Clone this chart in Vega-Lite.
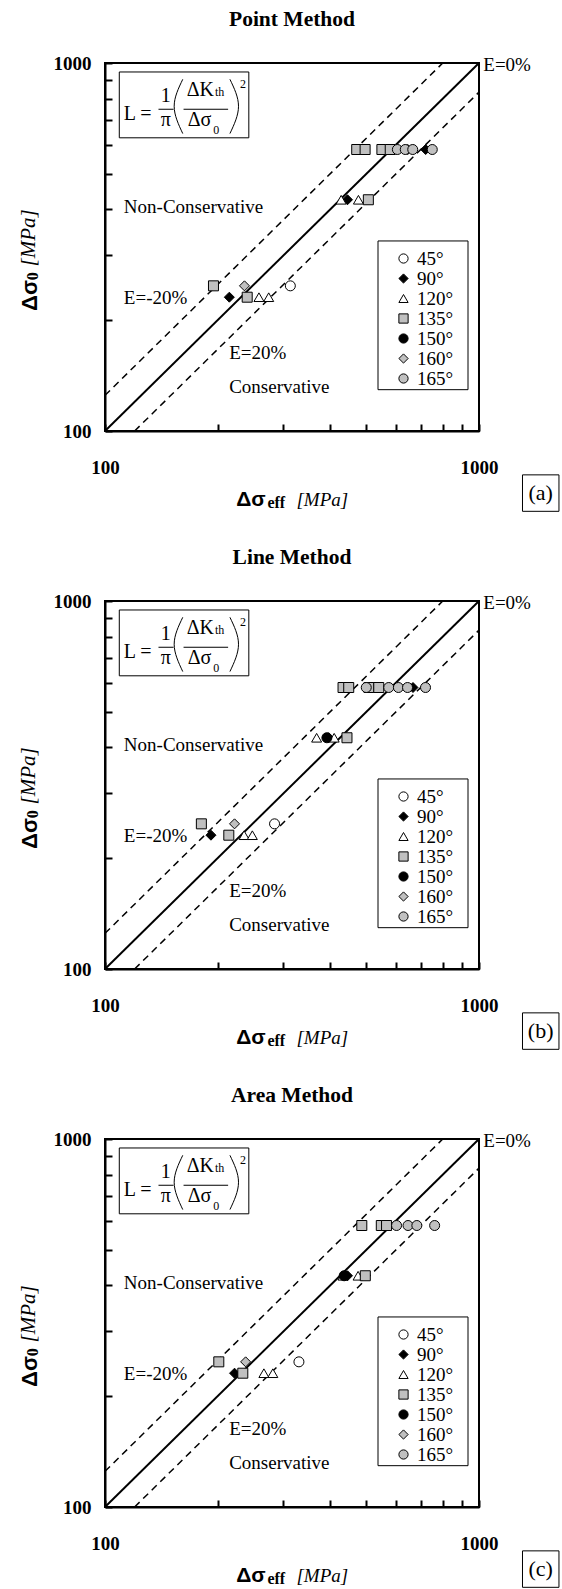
{
  "$schema": "https://vega.github.io/schema/vega-lite/v6.json",
  "background": "white",
  "padding": {"left": 17, "top": 7, "right": 5, "bottom": 0},
  "spacing": 32,
  "config": {
    "font": "Liberation Serif",
    "view": {"stroke": "black", "strokeWidth": 2},
    "axis": {"labelFont": "Liberation Serif", "labelFontSize": 19, "labelFontWeight": "bold", "labelColor": "black", "domainColor": "black", "domainWidth": 2, "ticks": true, "tickColor": "black", "tickWidth": 2, "tickSize": -7, "zindex": 1, "grid": false, "labelFlush": false, "labelOverlap": false, "labelBound": false},
    "legend": {"labelFont": "Liberation Serif", "labelFontSize": 19, "labelColor": "black", "symbolSize": 85, "symbolStrokeColor": "black", "symbolStrokeWidth": 1, "padding": 5, "rowPadding": -2, "symbolOffset": 11, "labelOffset": 4},
    "title": {"font": "Liberation Serif", "fontSize": 21.5, "fontWeight": "bold", "color": "black", "anchor": "middle", "frame": "group", "baseline": "bottom", "offset": 24}
  },
  "datasets": {
    "diag": [{"x": 100, "y": 100}, {"x": 1000, "y": 1000}],
    "dash": [{"g": "neg", "x": 100, "y": 125}, {"g": "neg", "x": 800, "y": 1000}, {"g": "pos", "x": 120, "y": 100}, {"g": "pos", "x": 1000, "y": 833.3}],
    "notes": [{"x": 112.3, "y": 405, "t": "Non-Conservative"}, {"x": 112.3, "y": 230.5, "t": "E=-20%"}, {"x": 214.8, "y": 163, "t": "E=20%"}, {"x": 214.8, "y": 131.9, "t": "Conservative"}, {"x": 1026.8, "y": 985.5, "t": "E=0%"}],
    "fbox": [{"x": 109.2, "x2": 242.4, "y": 945.4, "y2": 626.2}],
    "lbox": [{"x": 537, "x2": 934.6, "y": 328.4, "y2": 129.5}],
    "fbig": [{"x": 122.3, "y": 725.6, "t": "L ="}, {"x": 145.3, "y": 813.9, "t": "1"}, {"x": 145.3, "y": 700, "t": "π"}, {"x": 179.8, "y": 843, "t": "ΔK"}, {"x": 179.0, "y": 700, "t": "Δσ"}],
    "fsmall": [{"x": 202.5, "y": 834.2, "t": "th"}, {"x": 198.5, "y": 656.9, "t": "0"}, {"x": 234, "y": 878.9, "t": "2"}],
    "fbars": [{"x": 139, "x2": 152.5, "y": 748.7}, {"x": 162.2, "x2": 213.4, "y": 748.7}],
    "parens": [{"p": "l", "o": 0, "x": 161.4, "y": 903}, {"p": "l", "o": 1, "x": 153.1, "y": 763}, {"p": "l", "o": 2, "x": 161.4, "y": 643}, {"p": "r", "o": 0, "x": 215.8, "y": 903}, {"p": "r", "o": 1, "x": 227.5, "y": 763}, {"p": "r", "o": 2, "x": 215.8, "y": 643}],
    "xtb": [{"x": 268.8, "y": 65, "t": "Δσ"}],
    "xts": [{"x": 271.8, "y": 63.9, "t": "eff"}],
    "xtu": [{"x": 325, "y": 65, "t": "[MPa]"}],
    "ytb": [{"x": 63, "y": 212, "t": "Δσ"}],
    "yts": [{"x": 64, "y": 257, "t": "0"}],
    "ytu": [{"x": 62.8, "y": 280, "t": "[MPa]"}],
    "pbox": [{"x": 1307, "x2": 1636, "y": 76, "y2": 60.5}],
    "pa": [
      {"a": "45°", "x": 313, "y": 248},
      {"a": "90°", "x": 215, "y": 231}, {"a": "90°", "x": 445, "y": 425}, {"a": "90°", "x": 645, "y": 582}, {"a": "90°", "x": 720, "y": 582},
      {"a": "120°", "x": 258, "y": 231}, {"a": "120°", "x": 274, "y": 231}, {"a": "120°", "x": 428, "y": 425}, {"a": "120°", "x": 476, "y": 425},
      {"a": "135°", "x": 195, "y": 248}, {"a": "135°", "x": 240, "y": 231}, {"a": "135°", "x": 506, "y": 425}, {"a": "135°", "x": 471, "y": 582}, {"a": "135°", "x": 496, "y": 582}, {"a": "135°", "x": 550, "y": 582}, {"a": "135°", "x": 579, "y": 582},
      {"a": "160°", "x": 236, "y": 248},
      {"a": "165°", "x": 605, "y": 582}, {"a": "165°", "x": 635, "y": 582}, {"a": "165°", "x": 665, "y": 582}, {"a": "165°", "x": 750, "y": 582}
    ],
    "pb": [
      {"a": "45°", "x": 284, "y": 248},
      {"a": "90°", "x": 192, "y": 231}, {"a": "90°", "x": 396, "y": 425}, {"a": "90°", "x": 666, "y": 582},
      {"a": "120°", "x": 235.5, "y": 231}, {"a": "120°", "x": 247.7, "y": 231}, {"a": "120°", "x": 368, "y": 425}, {"a": "120°", "x": 410, "y": 425},
      {"a": "135°", "x": 181, "y": 248}, {"a": "135°", "x": 214.3, "y": 231}, {"a": "135°", "x": 443.6, "y": 425}, {"a": "135°", "x": 433, "y": 582}, {"a": "135°", "x": 448.4, "y": 582}, {"a": "135°", "x": 508, "y": 582}, {"a": "135°", "x": 539.5, "y": 582},
      {"a": "150°", "x": 392, "y": 425},
      {"a": "160°", "x": 222, "y": 248},
      {"a": "165°", "x": 499.5, "y": 582}, {"a": "165°", "x": 573.7, "y": 582}, {"a": "165°", "x": 608.8, "y": 582}, {"a": "165°", "x": 644, "y": 582}, {"a": "165°", "x": 719.5, "y": 582}
    ],
    "pc": [
      {"a": "45°", "x": 330, "y": 248},
      {"a": "90°", "x": 222, "y": 231}, {"a": "90°", "x": 445, "y": 425},
      {"a": "120°", "x": 266, "y": 231}, {"a": "120°", "x": 281, "y": 231}, {"a": "120°", "x": 433, "y": 425}, {"a": "120°", "x": 475, "y": 425},
      {"a": "135°", "x": 201.5, "y": 248}, {"a": "135°", "x": 233.6, "y": 231}, {"a": "135°", "x": 496.6, "y": 425}, {"a": "135°", "x": 486, "y": 582}, {"a": "135°", "x": 548, "y": 582}, {"a": "135°", "x": 566, "y": 582},
      {"a": "150°", "x": 436, "y": 425},
      {"a": "160°", "x": 237.7, "y": 248},
      {"a": "165°", "x": 602, "y": 582}, {"a": "165°", "x": 646, "y": 582}, {"a": "165°", "x": 682, "y": 582}, {"a": "165°", "x": 761, "y": 582}
    ]
  },
  "resolve": {"scale": {"fill": "independent", "shape": "independent", "stroke": "independent"}, "legend": {"fill": "independent", "shape": "independent", "stroke": "independent"}},
  "vconcat": [
    {
      "title": "Point Method",
      "width": 374, "height": 368,
      "encoding": {
        "x": {"field": "x", "type": "quantitative", "title": null, "scale": {"type": "log", "domain": [100, 1000], "nice": false}, "axis": {"title": null, "values": [100, 200, 300, 400, 500, 600, 700, 800, 900, 1000], "format": "d", "labelExpr": "datum.value == 100 || datum.value == 1000 ? datum.label : ''", "labelPadding": 34}},
        "y": {"field": "y", "type": "quantitative", "title": null, "scale": {"type": "log", "domain": [100, 1000], "nice": false}, "axis": {"title": null, "values": [100, 200, 300, 400, 500, 600, 700, 800, 900, 1000], "format": "d", "labelExpr": "datum.value == 100 || datum.value == 1000 ? datum.label : ''", "labelPadding": 21}}
      },
      "layer": [
        {"data": {"name": "diag"}, "mark": {"type": "line", "color": "black", "strokeWidth": 2}, "encoding": {}},
        {"data": {"name": "dash"}, "mark": {"type": "line", "color": "black", "strokeWidth": 1.5, "strokeDash": [7, 5]}, "encoding": {"detail": {"field": "g"}}},
        {"data": {"name": "fbox"}, "mark": {"type": "rect", "fill": "white", "stroke": "black", "strokeWidth": 1}, "encoding": {"x2": {"field": "x2"}, "y2": {"field": "y2"}}},
        {"data": {"name": "fbars"}, "mark": {"type": "rule", "color": "black", "strokeWidth": 1}, "encoding": {"x2": {"field": "x2"}}},
        {"data": {"name": "parens"}, "mark": {"type": "line", "color": "black", "strokeWidth": 1, "interpolate": "natural"}, "encoding": {"detail": {"field": "p"}, "order": {"field": "o", "type": "quantitative"}}},
        {"data": {"name": "fbig"}, "mark": {"type": "text", "fontSize": 20, "align": "center", "baseline": "middle", "color": "black"}, "encoding": {"text": {"field": "t"}}},
        {"data": {"name": "fsmall"}, "mark": {"type": "text", "fontSize": 12, "align": "center", "baseline": "middle", "color": "black"}, "encoding": {"text": {"field": "t"}}},
        {"data": {"name": "notes"}, "mark": {"type": "text", "fontSize": 19, "align": "left", "baseline": "middle", "color": "black"}, "encoding": {"text": {"field": "t"}}},
        {"data": {"name": "xtb"}, "mark": {"type": "text", "font": "Liberation Sans", "fontWeight": "bold", "fontSize": 21, "align": "right", "baseline": "middle", "color": "black"}, "encoding": {"text": {"field": "t"}}},
        {"data": {"name": "xts"}, "mark": {"type": "text", "fontWeight": "bold", "fontSize": 16, "align": "left", "baseline": "middle", "color": "black"}, "encoding": {"text": {"field": "t"}}},
        {"data": {"name": "xtu"}, "mark": {"type": "text", "fontStyle": "italic", "fontSize": 19, "align": "left", "baseline": "middle", "color": "black"}, "encoding": {"text": {"field": "t"}}},
        {"data": {"name": "ytb"}, "mark": {"type": "text", "font": "Liberation Sans", "fontWeight": "bold", "fontSize": 22, "angle": 270, "align": "left", "baseline": "middle", "color": "black"}, "encoding": {"text": {"field": "t"}}},
        {"data": {"name": "yts"}, "mark": {"type": "text", "fontWeight": "bold", "fontSize": 16, "angle": 270, "align": "left", "baseline": "middle", "color": "black"}, "encoding": {"text": {"field": "t"}}},
        {"data": {"name": "ytu"}, "mark": {"type": "text", "fontStyle": "italic", "fontSize": 21, "angle": 270, "align": "left", "baseline": "middle", "color": "black"}, "encoding": {"text": {"field": "t"}}},
        {"data": {"name": "pbox"}, "mark": {"type": "rect", "fill": "white", "stroke": "black", "strokeWidth": 1}, "encoding": {"x2": {"field": "x2"}, "y2": {"field": "y2"}}},
        {"data": {"values": [{"x": 1462, "y": 67.8, "t": "(a)"}]}, "mark": {"type": "text", "fontSize": 22, "align": "center", "baseline": "middle", "color": "black"}, "encoding": {"text": {"field": "t"}}},
        {"data": {"name": "lbox"}, "mark": {"type": "rect", "fill": "white", "stroke": "black", "strokeWidth": 1}, "encoding": {"x2": {"field": "x2"}, "y2": {"field": "y2"}}},
        {"data": {"name": "pa"}, "mark": {"type": "point", "filled": true, "size": 100, "strokeWidth": 1, "opacity": 1},
          "encoding": {
            "shape": {"field": "a", "type": "nominal", "scale": {"domain": ["45°", "90°", "120°", "135°", "150°", "160°", "165°"], "range": ["circle", "diamond", "triangle-up", "square", "circle", "diamond", "circle"]}, "legend": {"title": null, "orient": "none", "legendX": 273, "legendY": 181}},
            "fill": {"field": "a", "type": "nominal", "scale": {"domain": ["45°", "90°", "120°", "135°", "150°", "160°", "165°"], "range": ["white", "black", "white", "#c0c0c0", "black", "#c0c0c0", "#c0c0c0"]}, "legend": {"title": null, "orient": "none", "legendX": 273, "legendY": 181}},
            "stroke": {"field": "a", "type": "nominal", "scale": {"domain": ["45°", "90°", "120°", "135°", "150°", "160°", "165°"], "range": ["black", "black", "black", "black", "black", "black", "black"]}, "legend": {"title": null, "orient": "none", "legendX": 273, "legendY": 181}}
          }}
      ]
    },
    {
      "title": "Line Method",
      "width": 374, "height": 368,
      "encoding": {
        "x": {"field": "x", "type": "quantitative", "title": null, "scale": {"type": "log", "domain": [100, 1000], "nice": false}, "axis": {"title": null, "values": [100, 200, 300, 400, 500, 600, 700, 800, 900, 1000], "format": "d", "labelExpr": "datum.value == 100 || datum.value == 1000 ? datum.label : ''", "labelPadding": 34}},
        "y": {"field": "y", "type": "quantitative", "title": null, "scale": {"type": "log", "domain": [100, 1000], "nice": false}, "axis": {"title": null, "values": [100, 200, 300, 400, 500, 600, 700, 800, 900, 1000], "format": "d", "labelExpr": "datum.value == 100 || datum.value == 1000 ? datum.label : ''", "labelPadding": 21}}
      },
      "layer": [
        {"data": {"name": "diag"}, "mark": {"type": "line", "color": "black", "strokeWidth": 2}, "encoding": {}},
        {"data": {"name": "dash"}, "mark": {"type": "line", "color": "black", "strokeWidth": 1.5, "strokeDash": [7, 5]}, "encoding": {"detail": {"field": "g"}}},
        {"data": {"name": "fbox"}, "mark": {"type": "rect", "fill": "white", "stroke": "black", "strokeWidth": 1}, "encoding": {"x2": {"field": "x2"}, "y2": {"field": "y2"}}},
        {"data": {"name": "fbars"}, "mark": {"type": "rule", "color": "black", "strokeWidth": 1}, "encoding": {"x2": {"field": "x2"}}},
        {"data": {"name": "parens"}, "mark": {"type": "line", "color": "black", "strokeWidth": 1, "interpolate": "natural"}, "encoding": {"detail": {"field": "p"}, "order": {"field": "o", "type": "quantitative"}}},
        {"data": {"name": "fbig"}, "mark": {"type": "text", "fontSize": 20, "align": "center", "baseline": "middle", "color": "black"}, "encoding": {"text": {"field": "t"}}},
        {"data": {"name": "fsmall"}, "mark": {"type": "text", "fontSize": 12, "align": "center", "baseline": "middle", "color": "black"}, "encoding": {"text": {"field": "t"}}},
        {"data": {"name": "notes"}, "mark": {"type": "text", "fontSize": 19, "align": "left", "baseline": "middle", "color": "black"}, "encoding": {"text": {"field": "t"}}},
        {"data": {"name": "xtb"}, "mark": {"type": "text", "font": "Liberation Sans", "fontWeight": "bold", "fontSize": 21, "align": "right", "baseline": "middle", "color": "black"}, "encoding": {"text": {"field": "t"}}},
        {"data": {"name": "xts"}, "mark": {"type": "text", "fontWeight": "bold", "fontSize": 16, "align": "left", "baseline": "middle", "color": "black"}, "encoding": {"text": {"field": "t"}}},
        {"data": {"name": "xtu"}, "mark": {"type": "text", "fontStyle": "italic", "fontSize": 19, "align": "left", "baseline": "middle", "color": "black"}, "encoding": {"text": {"field": "t"}}},
        {"data": {"name": "ytb"}, "mark": {"type": "text", "font": "Liberation Sans", "fontWeight": "bold", "fontSize": 22, "angle": 270, "align": "left", "baseline": "middle", "color": "black"}, "encoding": {"text": {"field": "t"}}},
        {"data": {"name": "yts"}, "mark": {"type": "text", "fontWeight": "bold", "fontSize": 16, "angle": 270, "align": "left", "baseline": "middle", "color": "black"}, "encoding": {"text": {"field": "t"}}},
        {"data": {"name": "ytu"}, "mark": {"type": "text", "fontStyle": "italic", "fontSize": 21, "angle": 270, "align": "left", "baseline": "middle", "color": "black"}, "encoding": {"text": {"field": "t"}}},
        {"data": {"name": "pbox"}, "mark": {"type": "rect", "fill": "white", "stroke": "black", "strokeWidth": 1}, "encoding": {"x2": {"field": "x2"}, "y2": {"field": "y2"}}},
        {"data": {"values": [{"x": 1462, "y": 67.8, "t": "(b)"}]}, "mark": {"type": "text", "fontSize": 22, "align": "center", "baseline": "middle", "color": "black"}, "encoding": {"text": {"field": "t"}}},
        {"data": {"name": "lbox"}, "mark": {"type": "rect", "fill": "white", "stroke": "black", "strokeWidth": 1}, "encoding": {"x2": {"field": "x2"}, "y2": {"field": "y2"}}},
        {"data": {"name": "pb"}, "mark": {"type": "point", "filled": true, "size": 100, "strokeWidth": 1, "opacity": 1},
          "encoding": {
            "shape": {"field": "a", "type": "nominal", "scale": {"domain": ["45°", "90°", "120°", "135°", "150°", "160°", "165°"], "range": ["circle", "diamond", "triangle-up", "square", "circle", "diamond", "circle"]}, "legend": {"title": null, "orient": "none", "legendX": 273, "legendY": 181}},
            "fill": {"field": "a", "type": "nominal", "scale": {"domain": ["45°", "90°", "120°", "135°", "150°", "160°", "165°"], "range": ["white", "black", "white", "#c0c0c0", "black", "#c0c0c0", "#c0c0c0"]}, "legend": {"title": null, "orient": "none", "legendX": 273, "legendY": 181}},
            "stroke": {"field": "a", "type": "nominal", "scale": {"domain": ["45°", "90°", "120°", "135°", "150°", "160°", "165°"], "range": ["black", "black", "black", "black", "black", "black", "black"]}, "legend": {"title": null, "orient": "none", "legendX": 273, "legendY": 181}}
          }}
      ]
    },
    {
      "title": "Area Method",
      "width": 374, "height": 368,
      "encoding": {
        "x": {"field": "x", "type": "quantitative", "title": null, "scale": {"type": "log", "domain": [100, 1000], "nice": false}, "axis": {"title": null, "values": [100, 200, 300, 400, 500, 600, 700, 800, 900, 1000], "format": "d", "labelExpr": "datum.value == 100 || datum.value == 1000 ? datum.label : ''", "labelPadding": 34}},
        "y": {"field": "y", "type": "quantitative", "title": null, "scale": {"type": "log", "domain": [100, 1000], "nice": false}, "axis": {"title": null, "values": [100, 200, 300, 400, 500, 600, 700, 800, 900, 1000], "format": "d", "labelExpr": "datum.value == 100 || datum.value == 1000 ? datum.label : ''", "labelPadding": 21}}
      },
      "layer": [
        {"data": {"name": "diag"}, "mark": {"type": "line", "color": "black", "strokeWidth": 2}, "encoding": {}},
        {"data": {"name": "dash"}, "mark": {"type": "line", "color": "black", "strokeWidth": 1.5, "strokeDash": [7, 5]}, "encoding": {"detail": {"field": "g"}}},
        {"data": {"name": "fbox"}, "mark": {"type": "rect", "fill": "white", "stroke": "black", "strokeWidth": 1}, "encoding": {"x2": {"field": "x2"}, "y2": {"field": "y2"}}},
        {"data": {"name": "fbars"}, "mark": {"type": "rule", "color": "black", "strokeWidth": 1}, "encoding": {"x2": {"field": "x2"}}},
        {"data": {"name": "parens"}, "mark": {"type": "line", "color": "black", "strokeWidth": 1, "interpolate": "natural"}, "encoding": {"detail": {"field": "p"}, "order": {"field": "o", "type": "quantitative"}}},
        {"data": {"name": "fbig"}, "mark": {"type": "text", "fontSize": 20, "align": "center", "baseline": "middle", "color": "black"}, "encoding": {"text": {"field": "t"}}},
        {"data": {"name": "fsmall"}, "mark": {"type": "text", "fontSize": 12, "align": "center", "baseline": "middle", "color": "black"}, "encoding": {"text": {"field": "t"}}},
        {"data": {"name": "notes"}, "mark": {"type": "text", "fontSize": 19, "align": "left", "baseline": "middle", "color": "black"}, "encoding": {"text": {"field": "t"}}},
        {"data": {"name": "xtb"}, "mark": {"type": "text", "font": "Liberation Sans", "fontWeight": "bold", "fontSize": 21, "align": "right", "baseline": "middle", "color": "black"}, "encoding": {"text": {"field": "t"}}},
        {"data": {"name": "xts"}, "mark": {"type": "text", "fontWeight": "bold", "fontSize": 16, "align": "left", "baseline": "middle", "color": "black"}, "encoding": {"text": {"field": "t"}}},
        {"data": {"name": "xtu"}, "mark": {"type": "text", "fontStyle": "italic", "fontSize": 19, "align": "left", "baseline": "middle", "color": "black"}, "encoding": {"text": {"field": "t"}}},
        {"data": {"name": "ytb"}, "mark": {"type": "text", "font": "Liberation Sans", "fontWeight": "bold", "fontSize": 22, "angle": 270, "align": "left", "baseline": "middle", "color": "black"}, "encoding": {"text": {"field": "t"}}},
        {"data": {"name": "yts"}, "mark": {"type": "text", "fontWeight": "bold", "fontSize": 16, "angle": 270, "align": "left", "baseline": "middle", "color": "black"}, "encoding": {"text": {"field": "t"}}},
        {"data": {"name": "ytu"}, "mark": {"type": "text", "fontStyle": "italic", "fontSize": 21, "angle": 270, "align": "left", "baseline": "middle", "color": "black"}, "encoding": {"text": {"field": "t"}}},
        {"data": {"name": "pbox"}, "mark": {"type": "rect", "fill": "white", "stroke": "black", "strokeWidth": 1}, "encoding": {"x2": {"field": "x2"}, "y2": {"field": "y2"}}},
        {"data": {"values": [{"x": 1462, "y": 67.8, "t": "(c)"}]}, "mark": {"type": "text", "fontSize": 22, "align": "center", "baseline": "middle", "color": "black"}, "encoding": {"text": {"field": "t"}}},
        {"data": {"name": "lbox"}, "mark": {"type": "rect", "fill": "white", "stroke": "black", "strokeWidth": 1}, "encoding": {"x2": {"field": "x2"}, "y2": {"field": "y2"}}},
        {"data": {"name": "pc"}, "mark": {"type": "point", "filled": true, "size": 100, "strokeWidth": 1, "opacity": 1},
          "encoding": {
            "shape": {"field": "a", "type": "nominal", "scale": {"domain": ["45°", "90°", "120°", "135°", "150°", "160°", "165°"], "range": ["circle", "diamond", "triangle-up", "square", "circle", "diamond", "circle"]}, "legend": {"title": null, "orient": "none", "legendX": 273, "legendY": 181}},
            "fill": {"field": "a", "type": "nominal", "scale": {"domain": ["45°", "90°", "120°", "135°", "150°", "160°", "165°"], "range": ["white", "black", "white", "#c0c0c0", "black", "#c0c0c0", "#c0c0c0"]}, "legend": {"title": null, "orient": "none", "legendX": 273, "legendY": 181}},
            "stroke": {"field": "a", "type": "nominal", "scale": {"domain": ["45°", "90°", "120°", "135°", "150°", "160°", "165°"], "range": ["black", "black", "black", "black", "black", "black", "black"]}, "legend": {"title": null, "orient": "none", "legendX": 273, "legendY": 181}}
          }}
      ]
    }
  ]
}
